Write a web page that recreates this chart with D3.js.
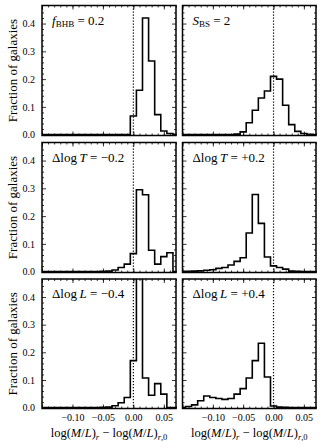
<!DOCTYPE html>
<html><head><meta charset="utf-8">
<script src="https://cdn.jsdelivr.net/npm/d3@7"></script>
<style>
html,body{margin:0;padding:0;background:#fff;}
svg{display:block;}
svg text{font-family:"Liberation Serif","DejaVu Serif",serif !important;fill:#000;}
</style></head>
<body>
<svg id="chart" width="325" height="448"></svg>
<script>
// bin centres (fraction histogram, bin width 0.01)
const binCenters = [-0.15,-0.14,-0.13,-0.12,-0.11,-0.10,-0.09,-0.08,-0.07,-0.06,-0.05,-0.04,-0.03,-0.02,-0.01,0.00,0.01,0.02,0.03,0.04,0.05,0.06,0.07];
const binWidth = 0.01;
// series values (fraction of galaxies per bin)
const fBHB   = [0,0,0,0,0,0,0,0,0,0,0,0,0,0,0,0.067,0.160,0.420,0.265,0.072,0.013,0.004,0.001];
const sBS    = [0,0,0,0,0,0,0,0,0,0.002,0.010,0.043,0.088,0.132,0.157,0.210,0.200,0.106,0.036,0.012,0.004,0.001,0];
const dTminus= [0,0,0,0,0,0,0,0,0,0,0.001,0.002,0.006,0.015,0.027,0.065,0.295,0.277,0.077,0.027,0.054,0.068,0];
const dTplus = [0.001,0.001,0.002,0.003,0.005,0.007,0.012,0.015,0.024,0.037,0.050,0.139,0.278,0.174,0.053,0.021,0.015,0.009,0.002,0.001,0,0,0];
const dLminus= [0,0,0,0,0,0,0,0,0,0,0.001,0.002,0.007,0.018,0.037,0.170,0.480,0.107,0.045,0.087,0.049,0,0];
const dLplus = [0,0.004,0.010,0.025,0.042,0.037,0.033,0.030,0.033,0.049,0.069,0.107,0.170,0.233,0.111,0.006,0.002,0.001,0,0,0,0,0];

const xMajor = [-0.15,-0.10,-0.05,0.00,0.05];
const xMinor = [-0.15,-0.14,-0.13,-0.12,-0.11,-0.10,-0.09,-0.08,-0.07,-0.06,-0.05,-0.04,-0.03,-0.02,-0.01,0.00,0.01,0.02,0.03,0.04,0.05,0.06,0.07];
const yMajor = [0.0,0.1,0.2,0.3,0.4];
const yMinor = [0.02,0.04,0.06,0.08,0.12,0.14,0.16,0.18,0.22,0.24,0.26,0.28,0.32,0.34,0.36,0.38,0.42,0.44];

const panels = [
  {vals:fBHB,   row:0,col:0,label:[["f","i"],["BHB","sub"],[" = 0.2",""]]},
  {vals:sBS,    row:0,col:1,label:[["S","i"],["BS","sub"],[" = 2",""]]},
  {vals:dTminus,row:1,col:0,label:[["Δlog\u2009",""],["T","i"],[" = −0.2",""]]},
  {vals:dTplus, row:1,col:1,label:[["Δlog\u2009",""],["T","i"],[" = +0.2",""]]},
  {vals:dLminus,row:2,col:0,label:[["Δlog\u2009",""],["L","i"],[" = −0.4",""]]},
  {vals:dLplus, row:2,col:1,label:[["Δlog\u2009",""],["L","i"],[" = +0.4",""]]}
];

const colX = [[42,176],[182.5,316]];
const rowY = [[5.5,135.5],[142.5,272.5],[279,408.5]];
const FONT = "Liberation Serif";

const svg = d3.select("#chart");
const defs = svg.append("defs");

panels.forEach((p,i)=>{
  const [x0,x1] = colX[p.col], [y0,y1] = rowY[p.row];
  const x = d3.scaleLinear().domain([-0.15,0.07]).range([x0,x1]);
  const y = d3.scaleLinear().domain([-0.003,0.465]).range([y1,y0]);
  const g = svg.append("g");

  defs.append("clipPath").attr("id","clip"+i)
    .append("rect").attr("x",x0).attr("y",y0).attr("width",x1-x0).attr("height",y1-y0);

  // histogram step outline
  const pts = [[binCenters[0]-binWidth/2,0]];
  binCenters.forEach((c,k)=>pts.push([c-binWidth/2,p.vals[k]]));
  pts.push([binCenters[binCenters.length-1]+binWidth/2,0]);
  g.append("path").attr("clip-path","url(#clip"+i+")")
    .attr("d", d3.line().x(d=>x(d[0])).y(d=>y(d[1])).curve(d3.curveStepAfter)(pts))
    .attr("fill","none").attr("stroke","#000").attr("stroke-width",1.6)
    .attr("stroke-linejoin","miter");

  // dotted zero line
  g.append("line").attr("x1",x(0)).attr("x2",x(0)).attr("y1",y0).attr("y2",y1)
    .attr("stroke","#000").attr("stroke-width",1.2).attr("stroke-dasharray","1.2,1.8");

  const styleAxis = (sel)=>{sel.attr("font-family",FONT); sel.select(".domain").remove();
    sel.selectAll("line").attr("stroke","#000").attr("stroke-width",0.8);
    sel.selectAll("text").attr("font-family",FONT).attr("font-size",10);};

  const showX = p.row===2, showY = p.col===0;
  // bottom
  g.append("g").attr("transform",`translate(0,${y1})`)
    .call(d3.axisBottom(x).tickValues(xMajor).tickSize(-4).tickPadding(5)
      .tickFormat(d=> showX && d>-0.14 ? d3.format(".2f")(d) : "")).call(styleAxis);
  g.append("g").attr("transform",`translate(0,${y1})`)
    .call(d3.axisBottom(x).tickValues(xMinor).tickSize(-2).tickFormat("")).call(styleAxis);
  // top
  g.append("g").attr("transform",`translate(0,${y0})`)
    .call(d3.axisTop(x).tickValues(xMajor).tickSize(-4).tickFormat("")).call(styleAxis);
  g.append("g").attr("transform",`translate(0,${y0})`)
    .call(d3.axisTop(x).tickValues(xMinor).tickSize(-2).tickFormat("")).call(styleAxis);
  // left
  g.append("g").attr("transform",`translate(${x0},0)`)
    .call(d3.axisLeft(y).tickValues(yMajor).tickSize(-4).tickPadding(7)
      .tickFormat(d=> showY ? d3.format(".1f")(d) : "")).call(styleAxis);
  g.append("g").attr("transform",`translate(${x0},0)`)
    .call(d3.axisLeft(y).tickValues(yMinor).tickSize(-2).tickFormat("")).call(styleAxis);
  // right
  g.append("g").attr("transform",`translate(${x1},0)`)
    .call(d3.axisRight(y).tickValues(yMajor).tickSize(-4).tickFormat("")).call(styleAxis);
  g.append("g").attr("transform",`translate(${x1},0)`)
    .call(d3.axisRight(y).tickValues(yMinor).tickSize(-2).tickFormat("")).call(styleAxis);

  // frame
  g.append("rect").attr("x",x0).attr("y",y0).attr("width",x1-x0).attr("height",y1-y0)
    .attr("fill","none").attr("stroke","#000").attr("stroke-width",1.5);

  // annotation
  const t = g.append("text").attr("x",x0+10).attr("y",y0+19).attr("font-size",13).attr("font-family",FONT);
  let prevSub = false;
  p.label.forEach(([s,k])=>{
    const ts = t.append("tspan").text(s);
    if(k==="i") ts.attr("font-style","italic");
    if(k==="sub"){ ts.attr("font-size",9).attr("dy",2.5); prevSub = true; }
    else if(prevSub){ ts.attr("dy",-2.5); prevSub = false; }
  });

  // y title
  if(showY){
    svg.append("text").attr("transform",`translate(17,${(y0+y1)/2}) rotate(-90)`)
      .attr("text-anchor","middle").attr("font-size",13).attr("font-family",FONT).text("Fraction of galaxies");
  }
  // x title
  if(showX){
    const xt = svg.append("text").attr("x",(x0+x1)/2).attr("y",437).attr("text-anchor","middle")
      .attr("font-size",12.5).attr("font-family",FONT);
    xt.append("tspan").text("log(");
    xt.append("tspan").attr("font-style","italic").text("M");
    xt.append("tspan").text("/");
    xt.append("tspan").attr("font-style","italic").text("L");
    xt.append("tspan").text(")");
    xt.append("tspan").attr("font-style","italic").attr("font-size",8.5).attr("dy",2.5).text("r");
    xt.append("tspan").attr("dy",-2.5).text(" − log(");
    xt.append("tspan").attr("font-style","italic").text("M");
    xt.append("tspan").text("/");
    xt.append("tspan").attr("font-style","italic").text("L");
    xt.append("tspan").text(")");
    xt.append("tspan").attr("font-style","italic").attr("font-size",8.5).attr("dy",2.5).text("r");
    xt.append("tspan").attr("font-size",8.5).text(",0");
  }
});
</script>
</body></html>
